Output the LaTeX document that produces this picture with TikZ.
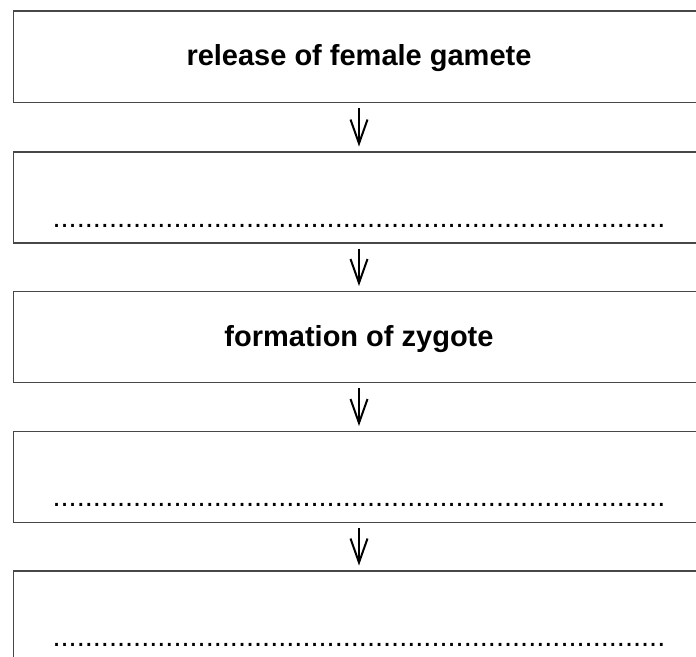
\documentclass[tikz,border=0pt]{standalone}
\usepackage{fontspec}
\setmainfont{Liberation Sans}
\usetikzlibrary{arrows.meta}
\tikzset{
  stagebox/.style={draw=black!72, line width=1.6bp, rectangle, minimum width=693.5bp, minimum height=91bp, inner sep=0pt, anchor=north west},
  stagetext/.style={font=\fontsize{29bp}{34bp}\selectfont\bfseries, inner sep=0pt, anchor=base},
  dotline/.style={font=\fontsize{29bp}{34bp}\selectfont, inner sep=0pt, anchor=base west},
  flowarrow/.style={draw=black, line width=2bp, -{Straight Barb[length=24bp, width=17bp, line width=2bp]}}
}
\newcommand{\dotrowtext}{\hbox{\foreach \i in {1,...,76}{.}}}
\begin{document}
\begin{tikzpicture}[x=1bp, y=-1bp]
  \useasboundingbox (0,0) rectangle (696,657);
  \clip (0,0) rectangle (696,657);
  \coordinate (ax) at (359,0);
  % boxes
  \node[stagebox] (b1) at (12.5,10.5) {};
  \node[stagebox] (b2) at (12.5,151) {};
  \node[stagebox] (b3) at (12.5,290.5) {};
  \node[stagebox] (b4) at (12.5,430.5) {};
  \node[stagebox] (b5) at (12.5,570) {};
  % texts
  \node[stagetext] (t1) at (359,66) {release of female gamete};
  \node[stagetext] (t3) at (359,346) {formation of zygote};
  \node[dotline] (d2) at (52.4,227) {\dotrowtext};
  \node[dotline] (d4) at (52.4,506.5) {\dotrowtext};
  \node[dotline] (d5) at (52.4,646) {\dotrowtext};
  % arrows
  \draw[flowarrow] ([yshift=-5bp]b1.south -| ax) -- ([yshift=4.5bp]b2.north -| ax);
  \draw[flowarrow] ([yshift=-5bp]b2.south -| ax) -- ([yshift=4.5bp]b3.north -| ax);
  \draw[flowarrow] ([yshift=-5bp]b3.south -| ax) -- ([yshift=4.5bp]b4.north -| ax);
  \draw[flowarrow] ([yshift=-5bp]b4.south -| ax) -- ([yshift=4.5bp]b5.north -| ax);
\end{tikzpicture}
\end{document}
